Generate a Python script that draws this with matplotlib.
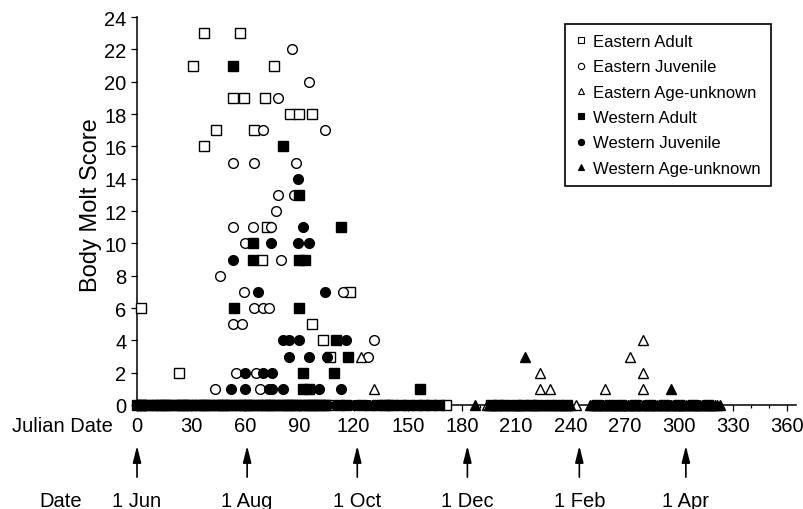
import matplotlib
matplotlib.use('Agg')
import matplotlib.pyplot as plt
from matplotlib.lines import Line2D
from matplotlib.ticker import MultipleLocator

plt.rcParams['font.family'] = ['Liberation Sans', 'DejaVu Sans']

# molt scores > 0 (x = Julian date from 1 Jun)
ea_x = [37, 57, 31, 76, 53, 59, 71, 85, 90, 97, 44, 65, 37, 72, 69, 2, 97, 103, 107, 23, 118]
ea_y = [23, 23, 21, 21, 19, 19, 19, 18, 18, 18, 17, 17, 16, 11, 9, 6, 5, 4, 3, 2, 7]

ej_x = [86, 95, 78, 70, 104, 53, 65, 88, 78, 87, 77, 53, 64, 74, 60, 80, 46, 59, 114,
        65, 70, 73, 53, 58, 131, 128, 55, 66, 43, 68]
ej_y = [22, 20, 19, 17, 17, 15, 15, 15, 13, 13, 12, 11, 11, 11, 10, 9, 8, 7, 7,
        6, 6, 6, 5, 5, 4, 3, 2, 2, 1, 1]

eu_x = [124, 131, 223, 223, 229, 259, 273, 280, 280, 280]
eu_y = [3, 1, 2, 1, 1, 1, 3, 4, 2, 1]

wa_x = [53, 81, 90, 113, 64, 64, 90, 93, 54, 90, 110, 117, 92, 109, 92, 95, 157]
wa_y = [21, 16, 13, 11, 10, 9, 9, 9, 6, 6, 4, 3, 2, 2, 1, 1, 1]

wj_x = [89, 92, 74, 89, 95, 53, 67, 104, 81, 84, 90, 116, 84, 95, 105, 60, 70, 75,
        52, 60, 73, 75, 81, 101, 113]
wj_y = [14, 11, 10, 10, 10, 9, 7, 7, 4, 4, 4, 4, 3, 3, 3, 2, 2, 2,
        1, 1, 1, 1, 1, 1, 1]

wu_x = [215, 296]
wu_y = [3, 1]

# dates of birds with molt score 0
ea_zero = [3, 15, 25, 37, 48, 61, 73, 85, 97, 106, 139, 171]
ej_zero = [6, 18, 31, 43, 56, 67, 79, 91, 99, 105, 123, 127, 143]
eu_zero = [129, 194, 199, 207, 212, 220, 226, 232, 237, 243, 252, 258, 265, 272, 279,
           287, 295, 303, 311, 318]
wa_zero = [0, 2, 3, 6, 9, 11, 13, 16, 18, 21, 23, 26, 28, 30, 33, 35, 38, 40, 43, 45,
           47, 50, 52, 55, 57, 59, 62, 64, 67, 69, 71, 74, 76, 79, 81, 83, 86, 88, 91,
           93, 95, 98, 100, 102, 104, 112, 116, 124, 133, 137, 141, 146, 150, 155, 159,
           163, 167, 196, 200, 204, 210, 214, 218, 222, 228, 233, 238, 255, 262, 268,
           276, 284, 292, 300, 308, 316]
wj_zero = [1, 4, 7, 10, 12, 15, 17, 20, 22, 25, 27, 29, 32, 34, 37, 39, 42, 44, 46, 49,
           51, 54, 56, 58, 61, 63, 66, 68, 70, 73, 75, 78, 80, 82, 85, 87, 90, 92, 94,
           97, 99, 101, 103, 110, 120, 128, 135, 144, 153, 160, 165]
wu_zero = [187, 195, 197, 199, 202, 204, 206, 209, 211, 213, 216, 219, 221, 224, 227,
           230, 233, 235, 238, 240, 251, 253, 255, 256, 258, 259, 261, 263, 264, 266,
           267, 269, 270, 272, 273, 275, 276, 278, 280, 281, 283, 284, 286, 288, 289,
           291, 292, 294, 296, 297, 299, 300, 302, 304, 305, 307, 309, 310, 312, 313,
           315, 317, 318, 320, 321, 323]

date_days = [0, 61, 122, 183, 245, 304]
date_labels = ['1 Jun', '1 Aug', '1 Oct', '1 Dec', '1 Feb', '1 Apr']

series = [
    ('Eastern Adult', 's', 'white', ea_x, ea_y, ea_zero),
    ('Eastern Juvenile', 'o', 'white', ej_x, ej_y, ej_zero),
    ('Eastern Age-unknown', '^', 'white', eu_x, eu_y, eu_zero),
    ('Western Adult', 's', 'black', wa_x, wa_y, wa_zero),
    ('Western Juvenile', 'o', 'black', wj_x, wj_y, wj_zero),
    ('Western Age-unknown', '^', 'black', wu_x, wu_y, wu_zero),
]

fig = plt.figure(figsize=(8.04, 5.10), dpi=100)
ax = fig.add_axes([137 / 804, 104 / 510, 659 / 804, 392 / 510])

handles = []
for label, marker, face, xs, ys, zeros in series:
    ax.plot(xs + zeros, ys + [0] * len(zeros), linestyle='none', marker=marker,
            ms=7, mfc=face, mec='black', mew=1.0, clip_on=False, zorder=3)
    handles.append(Line2D([], [], linestyle='none', marker=marker, ms=4.5,
                          mfc=face, mec='black', mew=0.8, label=label))

ax.set_xlim(0, 365)
ax.set_ylim(0, 24.25)
ax.xaxis.set_major_locator(MultipleLocator(30))
ax.xaxis.set_minor_locator(MultipleLocator(10))
ax.yaxis.set_major_locator(MultipleLocator(2))
for s in ['top', 'right']:
    ax.spines[s].set_visible(False)
for s in ['left', 'bottom']:
    ax.spines[s].set_linewidth(1.1)
ax.spines['left'].set_bounds(0, 24)
ax.tick_params(axis='x', which='major', length=4, width=0.9, pad=4, labelsize=14.5)
ax.tick_params(axis='x', which='minor', length=2, width=0.9)
ax.tick_params(axis='y', length=4.5, width=0.9, pad=3, labelsize=14.5)

leg = ax.legend(handles=handles, loc='upper right', bbox_to_anchor=(771 / 804, 1 - 25 / 510),
                bbox_transform=fig.transFigure, borderaxespad=0, fontsize=12,
                frameon=True, fancybox=False, framealpha=1, edgecolor='black',
                handlelength=0.7, handletextpad=0.4, borderpad=0.6, labelspacing=0.62)
leg.get_frame().set_linewidth(1.2)

fig.text(91 / 804, 1 - 205 / 510, 'Body Molt Score', rotation=90, ha='center',
         va='center', fontsize=17)
fig.text(113 / 804, 1 - 427 / 510, 'Julian Date', ha='right', va='center', fontsize=14.5)
fig.text(82 / 804, 3 / 510, 'Date', ha='right', va='baseline', fontsize=14.5)

# calendar arrows under the axis
trans = ax.get_xaxis_transform()
for d, lab in zip(date_days, date_labels):
    ax.annotate('', xy=(d, -0.104), xytext=(d, -0.184), xycoords=trans, textcoords=trans,
                arrowprops=dict(arrowstyle='-|>,head_length=1.0,head_width=0.25',
                                color='black', lw=1.2, shrinkA=0, shrinkB=0,
                                mutation_scale=10),
                annotation_clip=False)
    ax.text(d, -0.2577, lab, transform=trans, ha='center', va='baseline', fontsize=14.5)

fig.savefig('out.png', dpi=100)
